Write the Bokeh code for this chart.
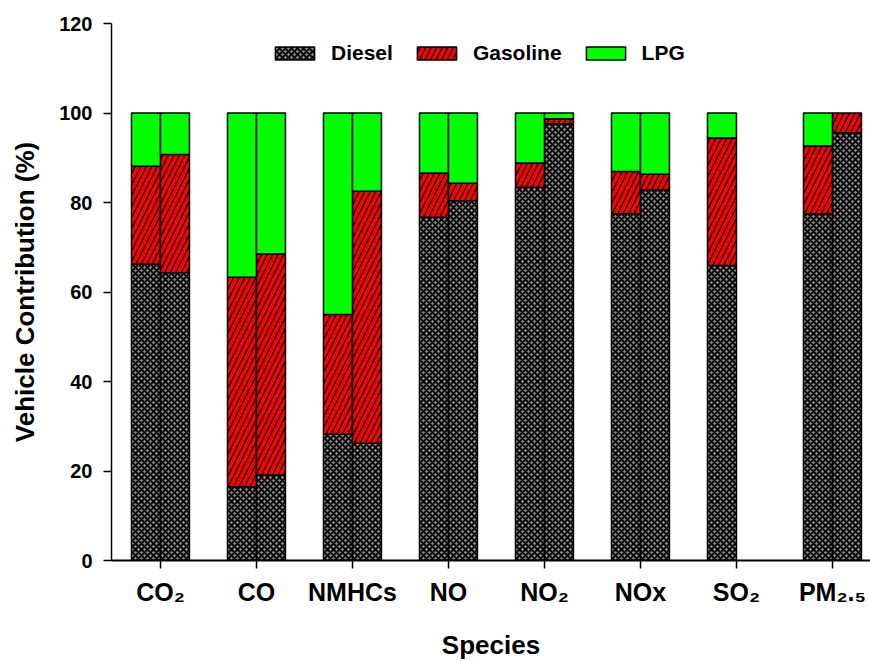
import numpy as np
from bokeh.plotting import figure
from bokeh.models import ColumnDataSource, FixedTicker, Legend, LegendItem, Range1d
from bokeh.embed import file_html
from bokeh.resources import INLINE

# ---------------- data ----------------
species = ["CO₂", "CO", "NMHCs", "NO", "NO₂", "NOx", "SO₂", "PM₂.₅"]
y_ticks = [0, 20, 40, 60, 80, 100, 120]
vehicles = ["Diesel", "Gasoline", "LPG"]

# left bar of each pair (%)
diesel_1   = [66.2, 16.5, 28.2, 76.7, 83.4, 77.5, 65.9, 77.5]
gasoline_1 = [21.9, 46.8, 26.8,  9.9,  5.4,  9.4, 28.5, 15.1]
lpg_1      = [11.9, 36.7, 45.0, 13.4, 11.2, 13.1,  5.6,  7.4]
# right bar of each pair (%)
diesel_2   = [64.3, 19.1, 26.2, 80.4, 97.6, 82.8,  0.0, 95.6]
gasoline_2 = [26.4, 49.4, 56.3,  3.9,  1.1,  3.5,  0.0,  4.4]
lpg_2      = [ 9.3, 31.5, 17.5, 15.7,  1.3, 13.7,  0.0,  0.0]

FONT = "Liberation Sans"
BAR_W = 29 / 96  # width of one bar in category units

p = figure(width=870, height=662, output_backend="svg", toolbar_location=None,
           x_range=Range1d(-0.51, -0.51 + 759 / 96), y_range=Range1d(0, 120),
           min_border_left=111, min_border_right=0, min_border_top=23,
           min_border_bottom=102)
p.outline_line_color = None
p.xgrid.grid_line_color = None
p.ygrid.grid_line_color = None
p.background_fill_color = "white"
p.border_fill_color = "white"

styles = {
    "Diesel": dict(fill_color="#858585", hatch_pattern="diagonal_cross",
                   hatch_color="black", hatch_scale=6, hatch_weight=1.8),
    "Gasoline": dict(fill_color="#ff0000", hatch_pattern="right_diagonal_line",
                     hatch_color="black", hatch_scale=11, hatch_weight=1.3),
    "LPG": dict(fill_color="#00ff00"),
}

bars_1 = np.array([diesel_1, gasoline_1, lpg_1])
bars_2 = np.array([diesel_2, gasoline_2, lpg_2])
idx = np.arange(len(species))

renderers = {}
for k, name in enumerate(vehicles):
    xs, bottoms, tops = [], [], []
    for arr, off in ((bars_1, -BAR_W / 2), (bars_2, BAR_W / 2)):
        base = arr[:k].sum(axis=0)
        val = arr[k]
        for i in idx:
            if val[i] > 0:
                xs.append(i + off)
                bottoms.append(base[i])
                tops.append(base[i] + val[i])
    src = ColumnDataSource(dict(x=xs, bottom=bottoms, top=tops))
    renderers[name] = p.vbar(x="x", width=BAR_W, bottom="bottom", top="top",
                             source=src, line_color="black", line_width=1.5,
                             **styles[name])

legend = Legend(items=[LegendItem(label=n, renderers=[renderers[n]]) for n in vehicles],
                orientation="horizontal", location=(159, 495),
                border_line_color=None, background_fill_alpha=0,
                padding=0, margin=0, spacing=19, label_standoff=12,
                glyph_width=49, glyph_height=16, label_height=16,
                label_text_font=FONT, label_text_font_style="bold",
                label_text_font_size="21px", label_text_color="black")
p.add_layout(legend)

# axes
p.xaxis.ticker = FixedTicker(ticks=list(idx))
p.xaxis.major_label_overrides = {int(i): s for i, s in zip(idx, species)}
p.yaxis.ticker = FixedTicker(ticks=y_ticks)
for ax in (p.xaxis, p.yaxis):
    ax.minor_tick_line_color = None
    ax.major_tick_in = 0
    ax.major_tick_out = 8
    ax.major_tick_line_color = "black"
    ax.axis_line_color = "black"
    ax.major_label_text_font = FONT
    ax.major_label_text_font_style = "bold"
    ax.major_label_text_color = "black"
    ax.axis_label_text_font = FONT
    ax.axis_label_text_font_style = "bold"
    ax.axis_label_text_color = "black"
    ax.axis_label_text_font_size = "26px"

p.xaxis.axis_line_width = 2
p.xaxis.major_tick_line_width = 1.5
p.yaxis.axis_line_width = 1.5
p.yaxis.major_tick_line_width = 1.5
p.xaxis.major_label_text_font_size = "25px"
p.yaxis.major_label_text_font_size = "20px"
p.xaxis.major_label_standoff = 9
p.yaxis.major_label_standoff = 11
p.xaxis.axis_label = "Species"
p.yaxis.axis_label = "Vehicle Contribution (%)"
p.xaxis.axis_label_standoff = 21
p.yaxis.axis_label_standoff = 16

open("out.html", "w").write(file_html(p, INLINE))
